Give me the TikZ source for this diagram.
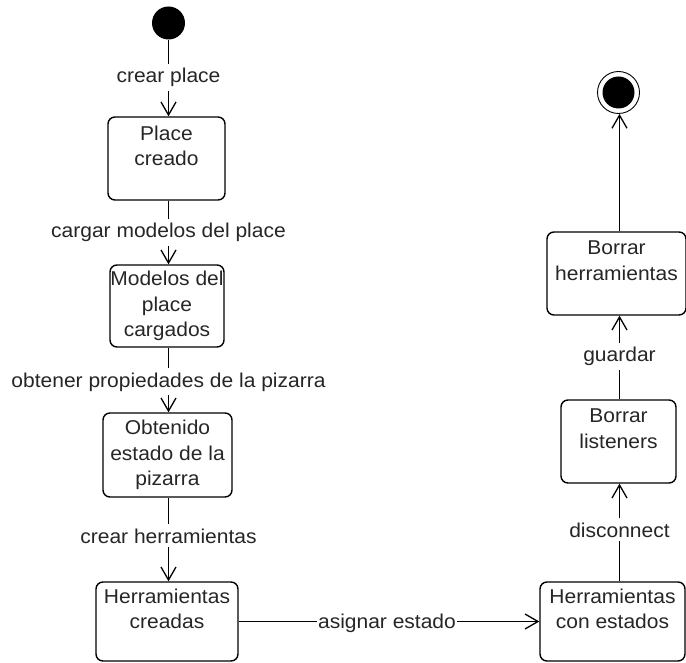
\documentclass[tikz,border=0pt]{standalone}
\usepackage{fontspec}
\setmainfont{Liberation Sans}[FakeStretch=1.05]
\usetikzlibrary{arrows.meta}
\begin{document}
\begin{tikzpicture}[x=1pt,y=-1pt,
  every node/.style={font=\fontsize{20}{25.5}\selectfont, text=black!85},
  state/.style={draw, line width=1.4pt, rounded corners=7pt, inner sep=0pt,
                align=center, minimum height=83pt},
  lbl/.style={fill=white, inner xsep=3pt, inner ysep=4pt, anchor=base},
  flow/.style={line width=1.4pt},
  arr/.style={flow, -{Straight Barb[length=13pt,width=15pt,line width=1.3pt]}}]
  \useasboundingbox (0,0) rectangle (686,663);

  % column positions
  \coordinate (L) at (168.5,0);
  \coordinate (R) at (619.5,0);

  % pseudo states
  \node[circle, fill=black, minimum size=33pt, inner sep=0pt] (init) at (168.5,23) {};
  \node[circle, draw, line width=0.9pt, minimum size=42pt, inner sep=0pt] (final) at (618.5,92.5) {};
  \node[circle, fill=black, minimum size=32pt, inner sep=0pt] (finalin) at (final.center) {};

  % left column states
  \node[state, minimum width=117pt] (place)    at (166.5,158.5) {Place\\creado\\~};
  \node[state, minimum width=114pt, minimum height=82pt] (modelos)  at (167,306) {Modelos del\\place\\cargados};
  \node[state, minimum width=129pt, minimum height=84pt] (obtenido) at (167.5,455) {Obtenido\\estado de la\\pizarra};
  \node[state, minimum width=142pt, minimum height=79pt] (creadas)  at (167,621.5) {Herramientas\\creadas\\~};

  % right column states
  \node[state, minimum width=145pt, minimum height=79pt] (conestados) at (612.5,621.5) {Herramientas\\con estados\\~};
  \node[state, minimum width=115pt] (listeners) at (618.5,441.5) {Borrar\\listeners\\~};
  \node[state, minimum width=139pt] (borrarh)   at (616.5,273.5) {Borrar\\herramientas\\~};

  % transition labels
  \node[lbl] (lcrear)   at (168.5,83)  {crear place};
  \node[lbl] (lcargar)  at (168.5,238) {cargar modelos del place};
  \node[lbl] (lobtener) at (168.5,387) {obtener propiedades de la pizarra};
  \node[lbl] (lcrearh)  at (168.5,543) {crear herramientas};
  \node[lbl, inner xsep=1pt] (lasignar) at (387,628) {asignar estado};
  \node[lbl] (ldisc)    at (619.5,537) {disconnect};
  \node[lbl] (lguardar) at (619.5,362) {guardar};

  % left column transitions
  \draw[flow] (init.south) -- (lcrear.north -| L);
  \draw[arr]  (lcrear.south -| L) -- (place.north -| L);
  \draw[flow] (place.south -| L) -- (lcargar.north -| L);
  \draw[arr]  (lcargar.south -| L) -- (modelos.north -| L);
  \draw[flow] (modelos.south -| L) -- (lobtener.north -| L);
  \draw[arr]  (lobtener.south -| L) -- (obtenido.north -| L);
  \draw[flow] (obtenido.south -| L) -- (lcrearh.north -| L);
  \draw[arr]  (lcrearh.south -| L) -- (creadas.north -| L);

  % bottom transition
  \draw[flow] (creadas.east) -- (lasignar.west |- creadas.east);
  \draw[arr]  (lasignar.east |- creadas.east) -- (conestados.west);

  % right column transitions
  \draw[flow] (conestados.north -| R) -- (ldisc.south -| R);
  \draw[arr]  (ldisc.north -| R) -- (listeners.south -| R);
  \draw[flow] (listeners.north -| R) -- (lguardar.south -| R);
  \draw[arr]  (lguardar.north -| R) -- (borrarh.south -| R);
  \draw[arr]  (borrarh.north -| R) -- (final.south -| R);
\end{tikzpicture}
\end{document}
